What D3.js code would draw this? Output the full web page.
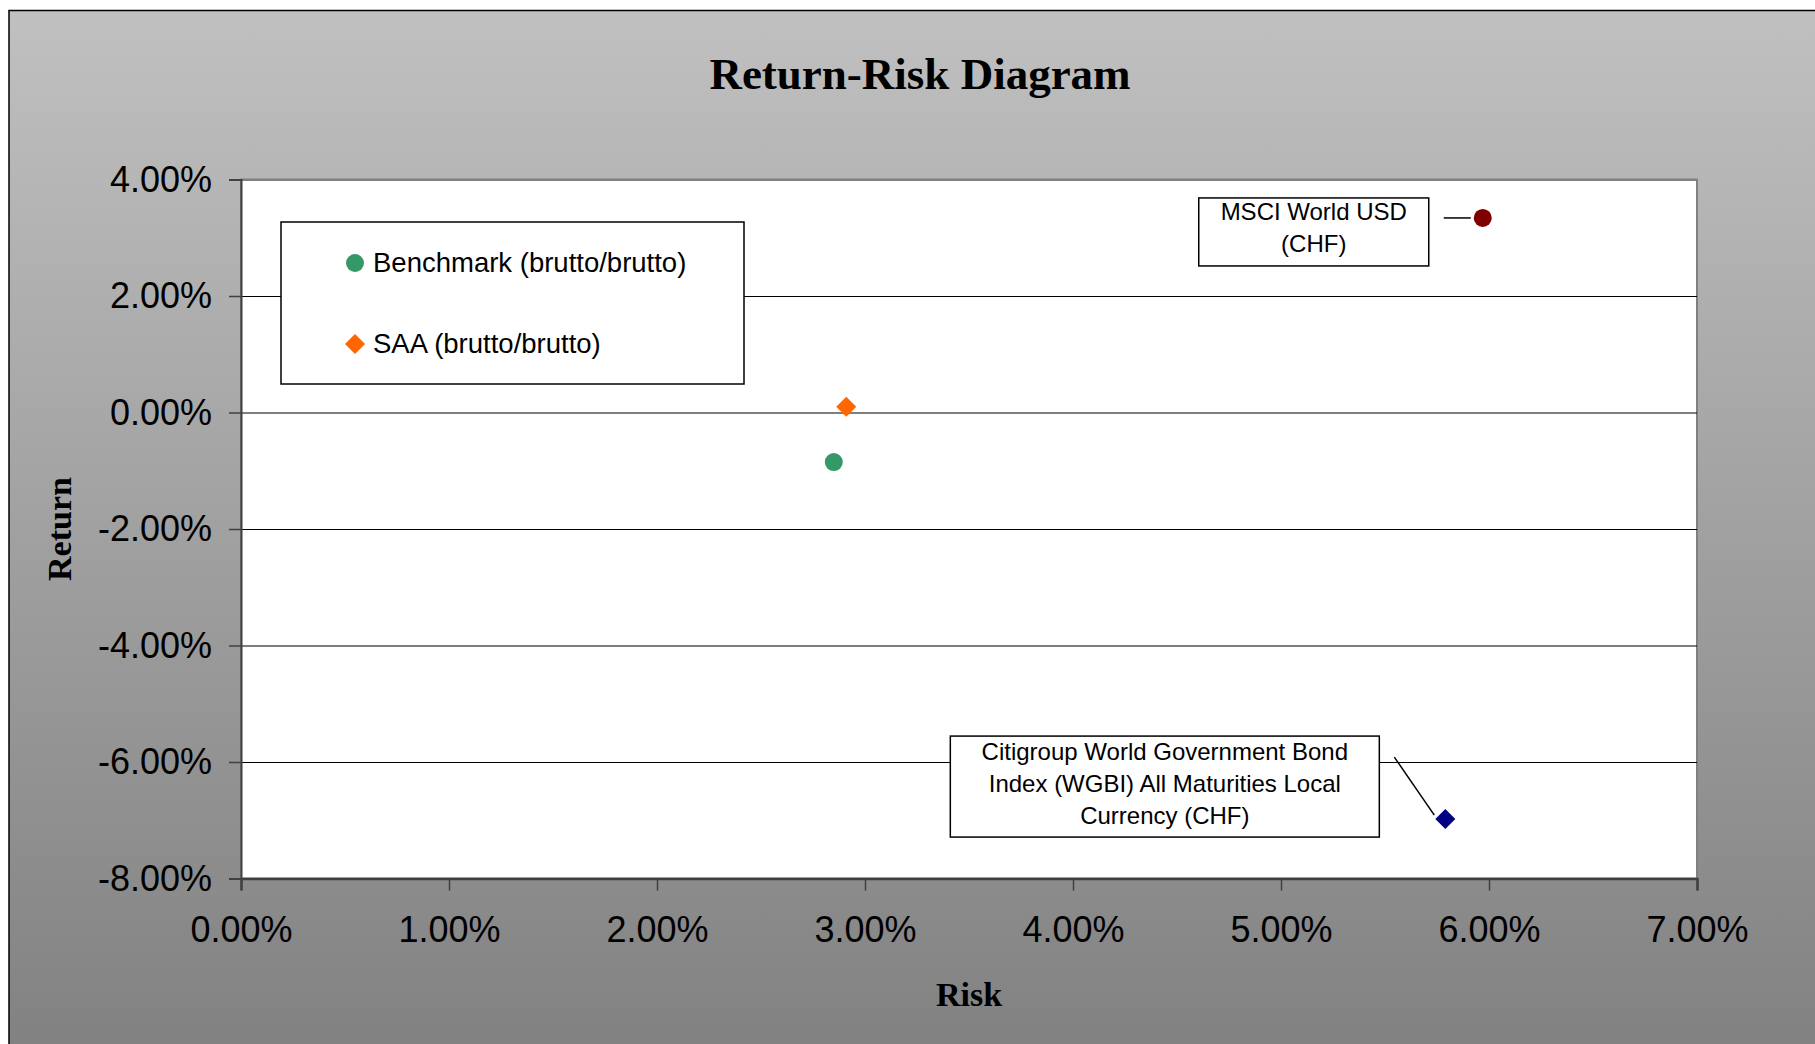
<!DOCTYPE html>
<html>
<head>
<meta charset="utf-8">
<script src="https://cdn.jsdelivr.net/npm/d3@7/dist/d3.min.js"></script>
<style>
  html, body { margin: 0; padding: 0; background: #ffffff; }
  svg { display: block; }
</style>
</head>
<body>
<svg id="chart" width="1815" height="1044"></svg>
<script>
// ---- data ----
const seriesNames = [
  "Benchmark (brutto/brutto)",
  "SAA (brutto/brutto)",
  "MSCI World USD (CHF)",
  "Citigroup World Government Bond Index (WGBI) All Maturities Local Currency (CHF)"
];
const riskValues   = [0.0285, 0.0291, 0.0597, 0.0579];
const returnValues = [-0.0085, 0.0010, 0.0334, -0.0698];
const xTickValues = [0, 0.01, 0.02, 0.03, 0.04, 0.05, 0.06, 0.07];
const yTickValues = [-0.08, -0.06, -0.04, -0.02, 0, 0.02, 0.04];
const legendSeries = [0, 1];
const labelLines = {
  2: ["MSCI World USD", "(CHF)"],
  3: ["Citigroup World Government Bond", "Index (WGBI) All Maturities Local", "Currency (CHF)"]
};

// ---- styles ----
const seriesColor = ["#339966", "#FF6600", "#800000", "#000080"];
const seriesShape = ["circle", "diamond", "circle", "diamond"];
const SANS = "'Liberation Sans', Arial, sans-serif";
const SERIF = "'Liberation Serif', 'Times New Roman', serif";

const W = 1815, H = 1044;
const plot = { left: 241, right: 1697, top: 179.5, bottom: 878.5 };

const svg = d3.select("#chart");
const defs = svg.append("defs");
const grad = defs.append("linearGradient").attr("id", "bg")
  .attr("x1", 0).attr("y1", 0).attr("x2", 0).attr("y2", 1);
grad.append("stop").attr("offset", "0%").attr("stop-color", "#c0c0c0");
grad.append("stop").attr("offset", "100%").attr("stop-color", "#808080");

// outer chart area
svg.append("rect").attr("x", 9).attr("y", 10.5).attr("width", W + 20).attr("height", H + 20)
  .attr("fill", "url(#bg)").attr("stroke", "#000").attr("stroke-width", 1.5);

const x = d3.scaleLinear().domain([0, 0.07]).range([plot.left, plot.right]);
const y = d3.scaleLinear().domain([-0.08, 0.04]).range([plot.bottom, plot.top]);
const pct = d3.format(".2%");
const fmt = v => pct(v).replace("\u2212", "-");

// plot area
svg.append("rect").attr("x", plot.left).attr("y", plot.top)
  .attr("width", plot.right - plot.left).attr("height", plot.bottom - plot.top)
  .attr("fill", "#ffffff").attr("stroke", "#808080").attr("stroke-width", 2);

// gridlines
const grid = svg.append("g").attr("transform", `translate(${plot.left},0)`)
  .call(d3.axisLeft(y).tickValues(yTickValues).tickSize(-(plot.right - plot.left)).tickFormat(""));
grid.select(".domain").remove();
grid.selectAll(".tick line").attr("stroke", "#000").attr("stroke-width", 1.2);
grid.selectAll(".tick").filter(d => d === 0.04).select("line").attr("stroke", "#808080").attr("stroke-width", 2);

// y axis
const yAxis = svg.append("g").attr("transform", `translate(${plot.left},0)`)
  .call(d3.axisLeft(y).tickValues(yTickValues).tickSize(12).tickPadding(17).tickFormat(fmt));
yAxis.select(".domain").attr("stroke", "#404040").attr("stroke-width", 2);
yAxis.selectAll(".tick line").attr("stroke", "#404040").attr("stroke-width", 1.5);
yAxis.selectAll("text").attr("font-family", SANS).attr("font-size", 36).attr("fill", "#000");

// x axis
const xAxis = svg.append("g").attr("transform", `translate(0,${plot.bottom})`)
  .call(d3.axisBottom(x).tickValues(xTickValues).tickSize(12).tickPadding(26).tickFormat(fmt));
xAxis.select(".domain").attr("stroke", "#404040").attr("stroke-width", 2.5);
xAxis.selectAll(".tick line").attr("stroke", "#404040").attr("stroke-width", 1.5);
xAxis.selectAll("text").attr("font-family", SANS).attr("font-size", 36).attr("fill", "#000");

// title & axis titles
svg.append("text").attr("x", 920).attr("y", 89).attr("text-anchor", "middle")
  .attr("font-family", SERIF).attr("font-weight", "bold").attr("font-size", 45)
  .text("Return-Risk Diagram");
svg.append("text").attr("transform", "translate(71,529) rotate(-90)").attr("text-anchor", "middle")
  .attr("font-family", SERIF).attr("font-weight", "bold").attr("font-size", 34)
  .text("Return");
svg.append("text").attr("x", 969).attr("y", 1006).attr("text-anchor", "middle")
  .attr("font-family", SERIF).attr("font-weight", "bold").attr("font-size", 34)
  .text("Risk");

function drawMarker(g, shape, color, cx, cy) {
  if (shape === "circle") {
    g.append("circle").attr("cx", cx).attr("cy", cy).attr("r", 9).attr("fill", color);
  } else {
    const s = 10;
    g.append("path").attr("d", `M${cx},${cy - s}L${cx + s},${cy}L${cx},${cy + s}L${cx - s},${cy}Z`).attr("fill", color);
  }
}

// data labels
const labelBoxes = {
  2: { dx: -284, dy: -20, w: 230, h: 68, lineH: 32, ty: 22 },
  3: { dx: -495, dy: -83, w: 429, h: 101, lineH: 32, ty: 24 },
};
const leaders = {
  2: [[-39, 0], [-12, 0]],
  3: [[-51, -62], [-11, -4]],
};
const labelLayer = svg.append("g");
Object.keys(labelLines).forEach(k => {
  const i = +k;
  const px = x(riskValues[i]), py = y(returnValues[i]);
  const b = labelBoxes[i];
  labelLayer.append("rect").attr("x", px + b.dx).attr("y", py + b.dy).attr("width", b.w).attr("height", b.h)
    .attr("fill", "#fff").attr("stroke", "#000").attr("stroke-width", 1.5);
  const t = labelLayer.append("text").attr("text-anchor", "middle")
    .attr("font-family", SANS).attr("font-size", 24).attr("fill", "#000");
  labelLines[i].forEach((ln, j) => {
    t.append("tspan").attr("x", px + b.dx + b.w / 2).attr("y", py + b.dy + b.ty + j * b.lineH).text(ln);
  });
  const L = leaders[i];
  labelLayer.append("line").attr("x1", px + L[0][0]).attr("y1", py + L[0][1])
    .attr("x2", px + L[1][0]).attr("y2", py + L[1][1]).attr("stroke", "#000").attr("stroke-width", 1.5);
});

// points
const pts = svg.append("g");
riskValues.forEach((r, i) => drawMarker(pts, seriesShape[i], seriesColor[i], x(r), y(returnValues[i])));

// legend
const lg = svg.append("g");
lg.append("rect").attr("x", 281).attr("y", 222).attr("width", 463).attr("height", 162)
  .attr("fill", "#fff").attr("stroke", "#000").attr("stroke-width", 1.5);
legendSeries.forEach((i, j) => {
  const cy = 263 + j * 81;
  drawMarker(lg, seriesShape[i], seriesColor[i], 355, cy);
  lg.append("text").attr("x", 373).attr("y", cy + 9).attr("font-family", SANS).attr("font-size", 27.5)
    .attr("fill", "#000").text(seriesNames[i]);
});
</script>
</body>
</html>
